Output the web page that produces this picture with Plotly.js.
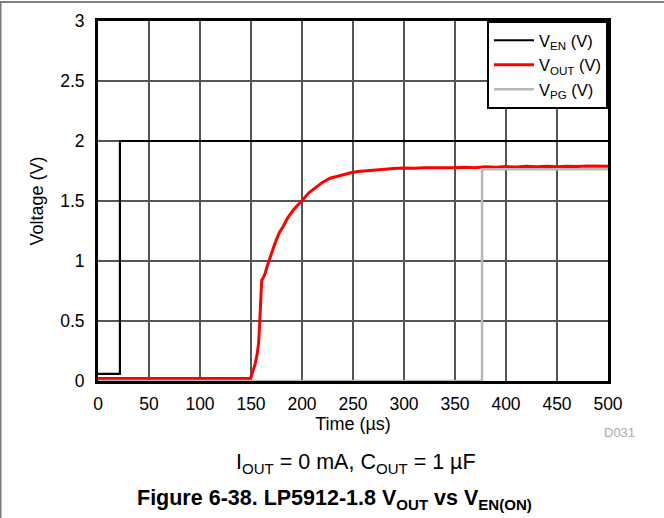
<!DOCTYPE html>
<html>
<head>
<meta charset="utf-8">
<script src="https://cdn.plot.ly/plotly-3.0.1.min.js"></script>
<style>html,body{margin:0;padding:0;background:#fff;}#chart{width:664px;height:518px;}</style>
</head>
<body>
<div id="chart"></div>
<script>
// Enable signal (V)
const enTime = [0, 21.5, 21.5, 500];
const enVolt = [0.06, 0.06, 2.0, 2.0];

// Output voltage (V)
const outTime = [0, 100, 148, 150, 152, 154, 156, 157.5, 158.5, 159.5, 160.5, 162, 164, 166, 168.6, 172, 175, 178, 181.7, 186, 191.5, 196, 200.7, 207, 214.4, 220, 227.5, 234, 240.5, 248, 255, 262, 270, 280, 290, 300, 310, 320, 330, 340, 350, 360, 370, 380, 390, 400, 410, 420, 430, 440, 450, 460, 470, 480, 490, 500];
const outVolt = [0.02, 0.02, 0.02, 0.03, 0.08, 0.14, 0.22, 0.32, 0.48, 0.68, 0.84, 0.86, 0.9, 0.96, 1.03, 1.11, 1.18, 1.24, 1.29, 1.36, 1.425, 1.47, 1.51, 1.57, 1.62, 1.655, 1.69, 1.705, 1.72, 1.735, 1.745, 1.75, 1.76, 1.765, 1.77, 1.775, 1.772, 1.778, 1.776, 1.78, 1.777, 1.782, 1.778, 1.785, 1.782, 1.787, 1.784, 1.789, 1.785, 1.79, 1.786, 1.79, 1.787, 1.791, 1.788, 1.79];

// Power-good signal (V)
const pgTime = [0, 376.5, 376.5, 500];
const pgVolt = [0.0, 0.0, 1.765, 1.765];

const xTicks = [0, 50, 100, 150, 200, 250, 300, 350, 400, 450, 500];
const yTicks = [0, 0.5, 1, 1.5, 2, 2.5, 3];
const yTickText = ['0', '0.5', '1', '1.5', '2', '2.5', '3'];

const font = 'Liberation Sans, Arial, Helvetica, sans-serif';

const traces = [
  {x: enTime, y: enVolt, mode: 'lines', name: 'V<sub>EN</sub> (V)', line: {color: '#000000', width: 2.2}},
  {x: outTime, y: outVolt, mode: 'lines', name: 'V<sub>OUT</sub> (V)', line: {color: '#ff0000', width: 3, shape: 'linear'}},
  {x: pgTime, y: pgVolt, mode: 'lines', name: 'V<sub>PG</sub> (V)', line: {color: '#b8b8b8', width: 2.5}}
];

const layout = {
  width: 664, height: 518,
  margin: {l: 98, r: 56, t: 21, b: 137},
  paper_bgcolor: '#ffffff', plot_bgcolor: '#ffffff',
  font: {family: font, size: 17.5, color: '#000'},
  showlegend: true,
  legend: {
    x: 1, xanchor: 'right', y: 1, yanchor: 'top',
    bgcolor: '#ffffff', bordercolor: '#000', borderwidth: 2,
    font: {family: font, size: 16.5, color: '#000'},
    tracegroupgap: 0, itemwidth: 40
  },
  xaxis: {
    range: [0, 500], tickvals: xTicks, ticktext: xTicks.map(String),
    showgrid: true, gridcolor: '#555555', gridwidth: 1.5,
    zeroline: false, showline: true, linecolor: '#000', linewidth: 3, mirror: true,
    ticks: 'outside', ticklen: 5, tickcolor: 'rgba(0,0,0,0)', tickfont: {family: font, size: 17.5},
    title: {text: 'Time (µs)', font: {family: font, size: 18}, standoff: 4}
  },
  yaxis: {
    range: [0, 3], tickvals: yTicks, ticktext: yTickText,
    showgrid: true, gridcolor: '#555555', gridwidth: 1.5,
    zeroline: false, showline: true, linecolor: '#000', linewidth: 3, mirror: true,
    ticks: 'outside', ticklen: 7, tickcolor: 'rgba(0,0,0,0)', tickfont: {family: font, size: 17.5},
    title: {text: 'Voltage (V)', font: {family: font, size: 18}, standoff: 12}
  },
  shapes: [
    {type: 'line', xref: 'paper', yref: 'paper', x0: -0.2, x1: 1.2, y0: 1.053, y1: 1.053, line: {color: '#555', width: 1.5}},
    {type: 'line', xref: 'paper', yref: 'paper', x0: -0.1912, x1: -0.1912, y0: -0.4, y1: 1.053, line: {color: '#777', width: 2}}
  ],
  annotations: [
    {xref: 'paper', yref: 'paper', x: 1.0235, y: -0.144, xanchor: 'center', yanchor: 'middle', text: 'D031', showarrow: false, font: {family: font, size: 13, color: '#aaaaaa'}},
    {xref: 'paper', yref: 'paper', x: 0.506, y: -0.228, xanchor: 'center', yanchor: 'middle', text: 'I<sub>OUT</sub> = 0 mA, C<sub>OUT</sub> = 1 µF', showarrow: false, font: {family: font, size: 21.5, color: '#000'}},
    {xref: 'paper', yref: 'paper', x: 0.463, y: -0.33, xanchor: 'center', yanchor: 'middle', text: '<b>Figure 6-38. LP5912-1.8 V<sub>OUT</sub> vs V<sub>EN(ON)</sub></b>', showarrow: false, font: {family: font, size: 21.5, color: '#000'}}
  ]
};

Plotly.newPlot('chart', traces, layout, {displayModeBar: false, staticPlot: true});
</script>
</body>
</html>
